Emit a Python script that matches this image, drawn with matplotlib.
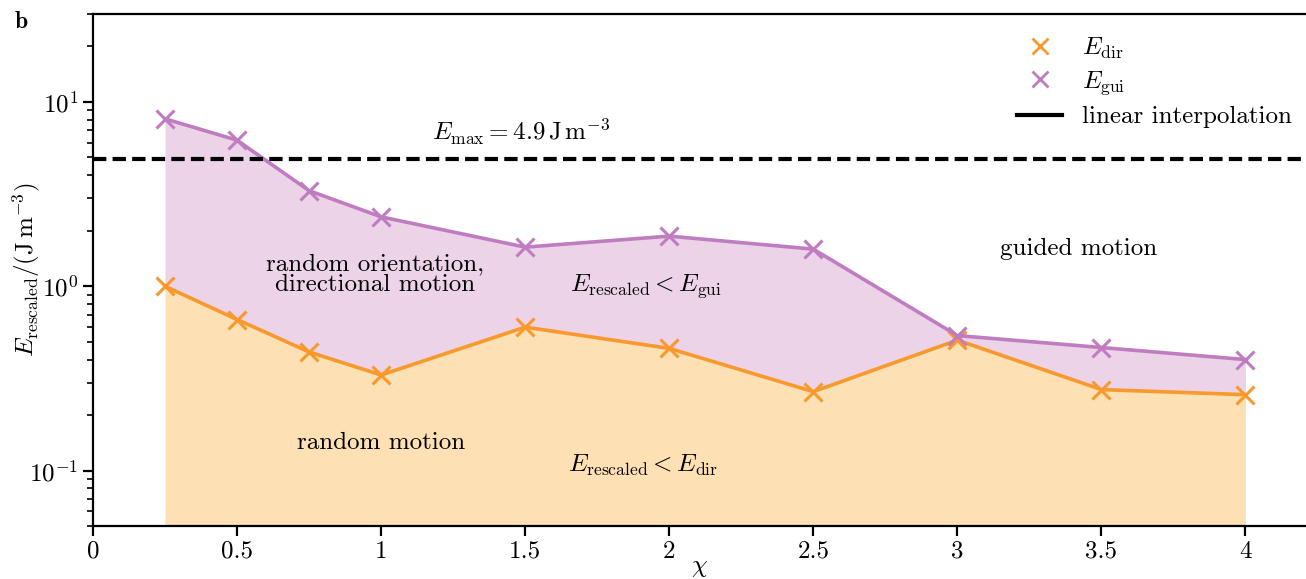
import numpy as np
import matplotlib
matplotlib.use("Agg")
import matplotlib.pyplot as plt
from matplotlib.lines import Line2D
from matplotlib.ticker import FixedLocator, FuncFormatter, LogLocator

plt.rcParams['font.family'] = 'serif'
plt.rcParams['font.serif'] = ['cmr10']
plt.rcParams['mathtext.fontset'] = 'cm'
plt.rcParams['axes.formatter.use_mathtext'] = True
plt.rcParams['axes.unicode_minus'] = False

# data
chi = [0.25, 0.5, 0.75, 1.0, 1.5, 2.0, 2.5, 3.0, 3.5, 4.0]
e_dir = [1.0, 0.66, 0.44, 0.33, 0.60, 0.46, 0.268, 0.51, 0.275, 0.258]
e_gui = [8.1, 6.2, 3.3, 2.38, 1.63, 1.87, 1.59, 0.54, 0.465, 0.40]
e_max = 4.9

c_dir = '#f7992c'
c_gui = '#c07cc0'
f_dir = '#fde0b3'
f_gui = '#ecd3e8'

fig = plt.figure(figsize=(13.06, 5.79), dpi=100)
ax = fig.add_axes([0.0712, 0.0915, 0.9288, 0.8843])

ymin = 0.05
ax.fill_between(chi, ymin, e_dir, color=f_dir, lw=0)
ax.fill_between(chi, e_dir, e_gui, color=f_gui, lw=0)
ax.plot(chi, e_dir, color=c_dir, lw=2.6, marker='x', ms=13, mew=2.2)
ax.plot(chi, e_gui, color=c_gui, lw=2.6, marker='x', ms=13, mew=2.2)
ax.axhline(e_max, color='black', lw=3, ls=(0, (3.2, 1.5)))

ax.set_yscale('log')
ax.set_ylim(ymin, 30)
ax.set_xlim(0, 4.21)
ax.xaxis.set_major_locator(FixedLocator(np.arange(0, 4.01, 0.5)))
ax.xaxis.set_major_formatter(FuncFormatter(lambda v, p: f'{v:g}'))
ax.yaxis.set_minor_locator(LogLocator(base=10, subs=np.arange(2, 10)))

ax.spines['right'].set_visible(False)
for s in ['left', 'bottom', 'top']:
    ax.spines[s].set_linewidth(1.6)
ax.tick_params(axis='both', which='major', labelsize=18, width=1.6, length=7)
ax.tick_params(axis='both', which='minor', width=1.2, length=4)

ax.set_xlabel(r'$\chi$', fontsize=18, labelpad=-4)
ax.set_ylabel(r'$E_\mathrm{rescaled}/(\mathrm{J\,m^{-3}})$', fontsize=18)
ax.yaxis.set_label_coords(-0.042, 0.5)

txt = dict(fontsize=18, ha='center', va='center')
ax.text(1.485, 6.9, r'$E_\mathrm{max} = 4.9\,\mathrm{J\,m^{-3}}$', **txt)
ax.text(0.98, 1.16, 'random orientation,\ndirectional motion', linespacing=0.95, **txt)
ax.text(1.92, 1.0, r'$E_\mathrm{rescaled} < E_\mathrm{gui}$', **txt)
ax.text(3.42, 1.59, 'guided motion', **txt)
ax.text(1.0, 0.141, 'random motion', **txt)
ax.text(1.91, 0.107, r'$E_\mathrm{rescaled} < E_\mathrm{dir}$', **txt)

handles = [
    Line2D([], [], color=c_dir, ls='none', marker='x', ms=11, mew=2),
    Line2D([], [], color=c_gui, ls='none', marker='x', ms=11, mew=2),
    Line2D([], [], color='black', lw=3),
]
labels = [r'$E_\mathrm{dir}$', r'$E_\mathrm{gui}$', 'linear interpolation']
ax.legend(handles, labels, loc='upper right', bbox_to_anchor=(1.006, 1.0),
          frameon=False, fontsize=18, handlelength=1.8, labelspacing=0.35,
          borderaxespad=0.45)

fig.text(0.011, 0.962, r'$\mathbf{b}$', fontsize=17, ha='left', va='center')

fig.savefig('out.png', dpi=100)
